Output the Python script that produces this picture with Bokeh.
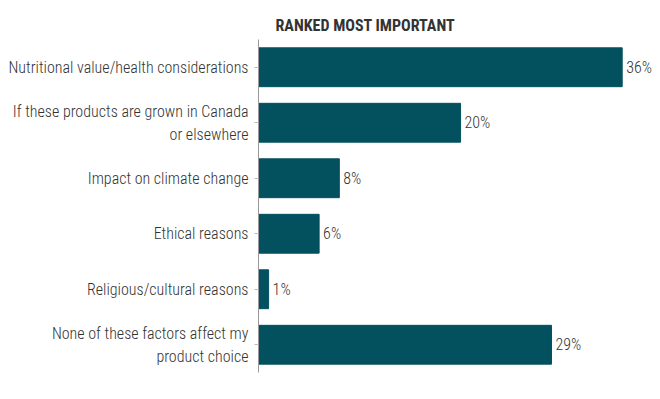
from bokeh.plotting import figure
from bokeh.models import ColumnDataSource, FactorRange, Range1d
from bokeh.core.properties import value
from bokeh.embed import file_html
from bokeh.resources import INLINE

categories = [
    "Nutritional value/health considerations",
    "If these products are grown in Canada\nor elsewhere",
    "Impact on climate change",
    "Ethical reasons",
    "Religious/cultural reasons",
    "None of these factors affect my\nproduct choice",
]
values = [36, 20, 8, 6, 1, 29]
labels = ["36%", "20%", "8%", "6%", "1%", "29%"]

FONT = "'Roboto Condensed', 'Liberation Sans Narrow', Roboto"
FONT_LIGHT = "'Roboto Condensed Light', 'Roboto Condensed', 'Liberation Sans Narrow', Roboto"
BAR = "#03505f"

src = ColumnDataSource(dict(cat=categories, val=values, lab=labels))

p = figure(
    width=652, height=383,
    y_range=FactorRange(factors=categories[::-1], range_padding=0),
    x_range=Range1d(0, 39.0),
    output_backend="svg", toolbar_location=None,
    min_border_left=258, min_border_right=0, min_border_bottom=11, min_border_top=39,
)
p.title.text = "RANKED MOST IMPORTANT"
p.title.text_font = FONT
p.title.text_font_size = "16px"
p.title.text_font_style = "bold"
p.title.text_color = "#333333"
p.title.align = "left"
p.title.offset = 17

p.hbar(y="cat", right="val", left=0, height=0.7, source=src, color=BAR)
p.text(x="val", y="cat", text="lab", source=src, x_offset=4,
       text_baseline="middle", text_align="left",
       text_font=value(FONT_LIGHT), text_font_size="16px", text_color="#333333")

p.xaxis.visible = False
p.xgrid.visible = False
p.ygrid.visible = False
p.outline_line_color = None
p.yaxis.axis_line_color = "#999999"
p.yaxis.major_tick_line_color = "#bbbbbb"
p.yaxis.major_tick_out = 4
p.yaxis.major_tick_in = 0
p.yaxis.minor_tick_line_color = None
p.yaxis.major_label_text_font = FONT_LIGHT
p.yaxis.major_label_text_font_size = "16px"
p.yaxis.major_label_text_color = "#333333"
p.yaxis.major_label_standoff = 6

open("out.html", "w").write(file_html(p, INLINE))
